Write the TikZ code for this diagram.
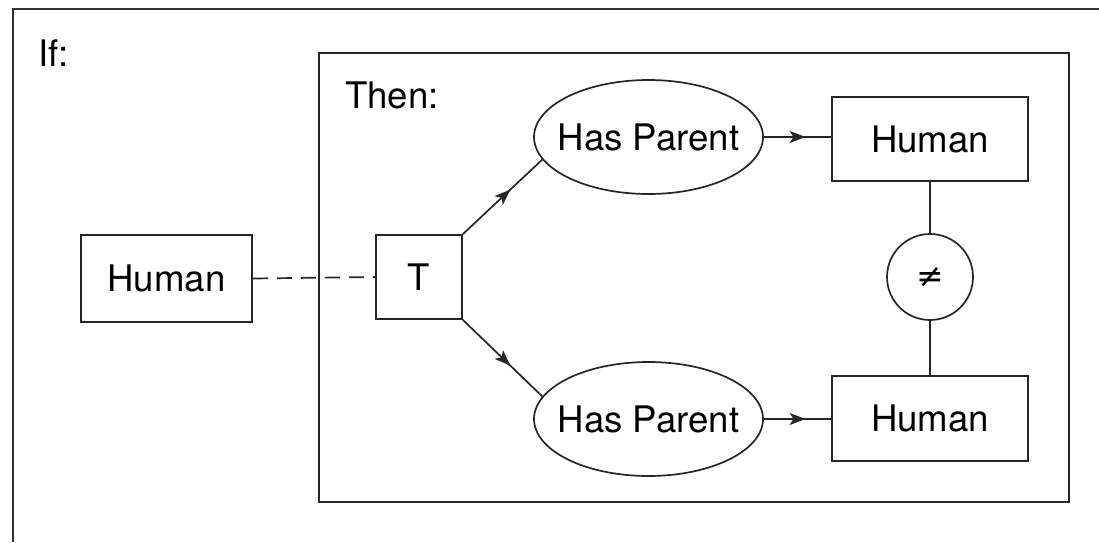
\documentclass[tikz,border=0pt]{standalone}
\usepackage{fontspec}
\setmainfont{TeX Gyre Heros}
\newfontfamily\djv{DejaVu Sans}
\usetikzlibrary{shapes.geometric,arrows.meta,decorations.markings}
\tikzset{
  ln/.style={line width=1.7pt, draw=black!85},
  boxn/.style={ln, rectangle, inner sep=0pt, font=\fontsize{36.6}{44}\selectfont},
  ell/.style={ln, ellipse, inner xsep=-10.5pt, inner ysep=0pt, minimum width=229pt, minimum height=114pt, font=\fontsize{36.6}{44}\selectfont},
  lbl/.style={inner sep=0pt, font=\fontsize{36.6}{44}\selectfont},
  midarrow/.style={ln, postaction={decorate}, decoration={markings, mark=at position #1 with {\arrow{Stealth[length=16pt,width=12pt,inset=4pt]}}}},
  dashline/.style={ln, dash pattern=on 15pt off 9pt}
}
\begin{document}
\begin{tikzpicture}[x=1pt,y=-1pt]
\useasboundingbox (0,0) rectangle (1099,542);
% outer frame (cropped)
\coordinate (otr) at (1099,9);
\coordinate (otl) at (13,9);
\coordinate (obl) at (13,542);
\draw[line width=2pt, draw=black!80] (otr) -- (otl) -- (obl);
\node[lbl, anchor=base west] (iflbl) at (38,66) {If:};
% inner frame
\node[ln, rectangle, minimum width=750pt, minimum height=449pt, inner sep=0pt] (inner) at (694,277.5) {};
\node[lbl, anchor=base west] (thenlbl) at (345,108) {Then:};
% nodes
\node[boxn, minimum width=171pt, minimum height=87pt] (hleft) at (166.5,278.5) {Human};
\node[boxn, minimum width=86pt, minimum height=84pt] (T) at (419,277) {T};
\node[ell] (hp1) at (648.5,137) {Has Parent};
\node[ell] (hp2) at (648.5,419) {Has Parent};
\node[boxn, minimum width=196pt, minimum height=84pt] (hu1) at (930,139) {Human};
\node[boxn, minimum width=196pt, minimum height=85pt] (hu2) at (930,418.5) {Human};
\node[ln, circle, minimum size=86pt, inner sep=0pt, font=\djv\fontsize{33}{36}\selectfont] (neq) at (930,277) {≠};
% connectors
\draw[dashline] (hleft.east) -- (T.west);
\draw[midarrow=0.6] (T.north east) -- (hp1.192);
\draw[midarrow=0.6] (T.south east) -- (hp2.168);
\draw[midarrow=0.62] (hp1.east) -- (hp1.east -| hu1.west);
\draw[midarrow=0.62] (hp2.east) -- (hp2.east -| hu2.west);
\draw[ln] (hu1.south) -- (neq.north);
\draw[ln] (neq.south) -- (hu2.north);
\end{tikzpicture}
\end{document}
